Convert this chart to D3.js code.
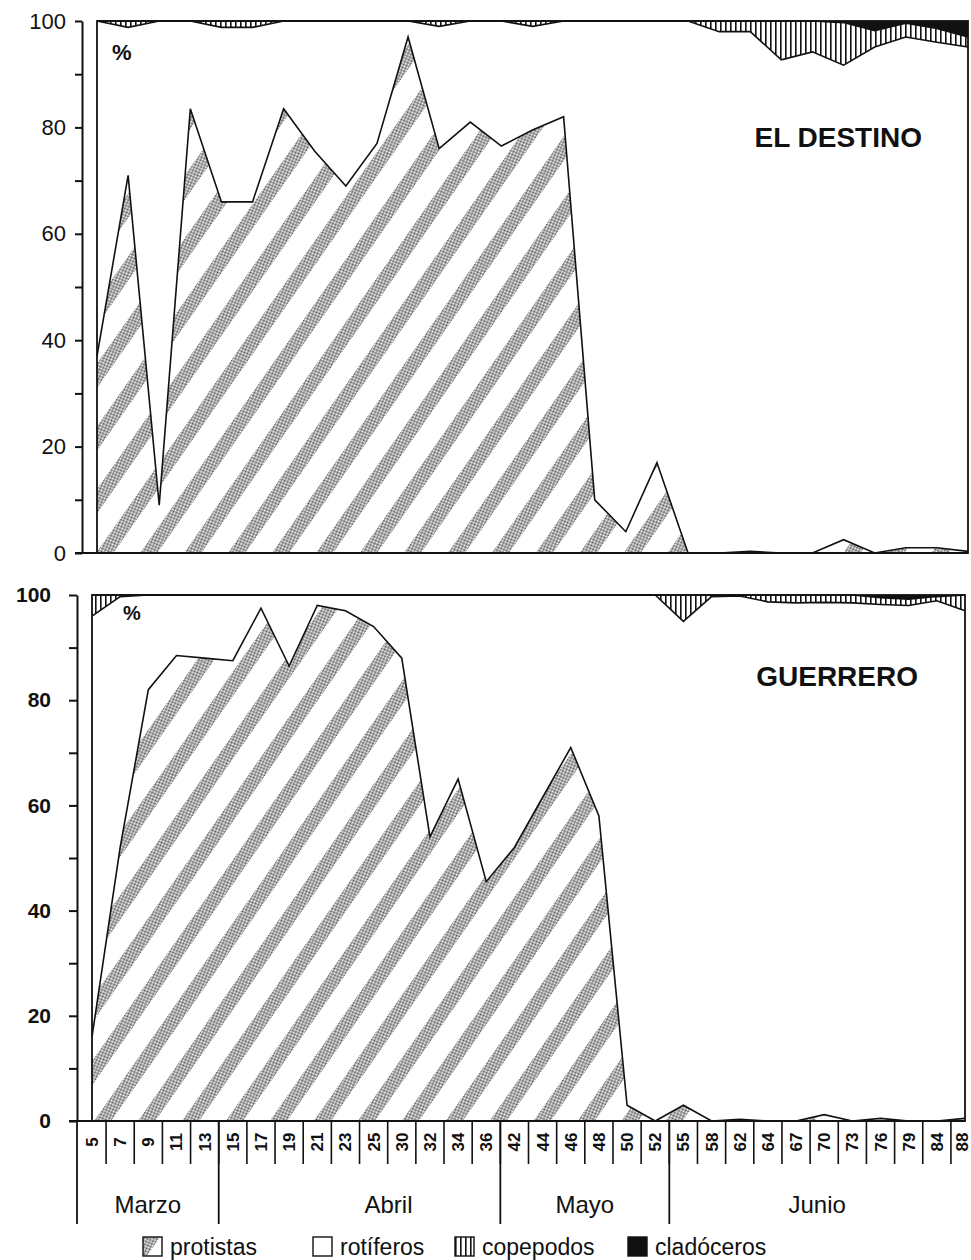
<!DOCTYPE html>
<html lang="es">
<head>
<meta charset="UTF-8">
<title>Composición del zooplancton (%)</title>
<script src="https://cdn.jsdelivr.net/npm/d3@7"></script>
<style>
body { margin: 0; background: #fff; }
svg text { font-family: "Liberation Sans", Arial, Helvetica, sans-serif; fill: #111; }
</style>
</head>
<body>
<svg id="chart" width="971" height="1260"></svg>
<script>
// ---- datos ----
var grupos = ["protistas", "rotíferos", "copepodos", "cladóceros"];

// El Destino: 29 muestreos (el original no los rotula)
var destinoMuestras = [1, 2, 3, 4, 5, 6, 7, 8, 9, 10, 11, 12, 13, 14, 15, 16, 17, 18, 19, 20, 21, 22, 23, 24, 25, 26, 27, 28, 29];
var destinoProtistas  = [37, 71, 9, 83.5, 66, 66, 83.5, 75.5, 69, 77, 97, 76, 81, 76.5, 79.5, 82, 10, 4, 17, 0, 0, 0.3, 0, 0, 2.5, 0, 1, 1, 0.3];
var destinoRotiferos  = [63, 27.8, 91, 16.5, 32.8, 32.8, 16.5, 24.5, 31, 23, 3, 23, 19, 23.5, 19.5, 18, 90, 96, 83, 100, 98, 97.7, 92.7, 94.2, 89.2, 95.1, 96, 95, 94.8];
var destinoCopepodos  = [0, 1.2, 0, 0, 1.2, 1.2, 0, 0, 0, 0, 0, 1, 0, 0, 1, 0, 0, 0, 0, 0, 2, 2, 7.3, 5.8, 8, 3.1, 2.6, 2.6, 1.9];
var destinoCladoceros = [0, 0, 0, 0, 0, 0, 0, 0, 0, 0, 0, 0, 0, 0, 0, 0, 0, 0, 0, 0, 0, 0, 0, 0, 0.3, 1.8, 0.4, 1.4, 3];

// Guerrero: días de muestreo
var dias = ["5", "7", "9", "11", "13", "15", "17", "19", "21", "23", "25", "30", "32", "34", "36", "42", "44", "46", "48", "50", "52", "55", "58", "62", "64", "67", "70", "73", "76", "79", "84", "88"];
var guerreroProtistas  = [16, 52, 82, 88.5, 88, 87.5, 97.5, 86.5, 98, 97, 94, 88, 54, 65, 45.5, 52, 61.5, 71, 58, 3, 0, 3, 0, 0.3, 0, 0, 1.2, 0, 0.5, 0, 0, 0.5];
var guerreroRotiferos  = [80, 47.7, 18, 11.5, 12, 12.5, 2.5, 13.5, 2, 3, 6, 12, 46, 35, 54.5, 48, 38.5, 29, 42, 97, 100, 92, 99.7, 99.5, 98.7, 98.5, 97.4, 98.5, 97.7, 98, 98.9, 96.5];
var guerreroCopepodos  = [4, 0.3, 0, 0, 0, 0, 0, 0, 0, 0, 0, 0, 0, 0, 0, 0, 0, 0, 0, 0, 0, 5, 0.3, 0.2, 1.3, 1.5, 1.4, 1.5, 1.3, 1.2, 0.8, 3];
var guerreroCladoceros = [0, 0, 0, 0, 0, 0, 0, 0, 0, 0, 0, 0, 0, 0, 0, 0, 0, 0, 0, 0, 0, 0, 0, 0, 0, 0, 0, 0, 0.5, 0.8, 0.3, 0];

var meses = ["Marzo", "Abril", "Mayo", "Junio"];
var mesPrimerDia = ["5", "15", "42", "55"];

var yTicks = [0, 10, 20, 30, 40, 50, 60, 70, 80, 90, 100];
var yEtiquetas = [0, 20, 40, 60, 80, 100];

// ---- dibujo ----
var svg = d3.select("#chart");
var defs = svg.append("defs");

// punteado fino para las bandas de protistas
var st = defs.append("pattern").attr("id", "punteado")
  .attr("patternUnits", "userSpaceOnUse").attr("width", 2).attr("height", 2);
st.append("rect").attr("width", 2).attr("height", 2).attr("fill", "#fff");
st.append("rect").attr("width", 1).attr("height", 1).attr("fill", "#555");
st.append("rect").attr("x", 1).attr("y", 1).attr("width", 1).attr("height", 1).attr("fill", "#555");

var rayas = defs.append("pattern").attr("id", "pat-protistas")
  .attr("patternUnits", "userSpaceOnUse").attr("width", 36).attr("height", 36)
  .attr("patternTransform", "rotate(35)");
rayas.append("rect").attr("width", 36).attr("height", 36).attr("fill", "#fff");
rayas.append("rect").attr("width", 14).attr("height", 36).attr("fill", "url(#punteado)");

var verticales = defs.append("pattern").attr("id", "pat-copepodos")
  .attr("patternUnits", "userSpaceOnUse").attr("width", 5).attr("height", 10);
verticales.append("rect").attr("width", 5).attr("height", 10).attr("fill", "#fff");
verticales.append("rect").attr("width", 1.6).attr("height", 10).attr("fill", "#111");

var relleno = {
  "protistas": "url(#pat-protistas)",
  "rotíferos": "#fff",
  "copepodos": "url(#pat-copepodos)",
  "cladóceros": "#111"
};

function panel(o) {
  var x = d3.scalePoint().domain(o.cats).range([o.left, o.right]);
  var y = d3.scaleLinear().domain([0, 100]).range([o.bottom, o.top]);

  var filas = o.cats.map(function(c, i) {
    return { cat: c, "protistas": o.series[0][i], "rotíferos": o.series[1][i],
             "copepodos": o.series[2][i], "cladóceros": o.series[3][i] };
  });
  var capas = d3.stack().keys(grupos)(filas);

  var area = d3.area()
    .x(function(d) { return x(d.data.cat); })
    .y0(function(d) { return y(d[0]); })
    .y1(function(d) { return y(d[1]); });
  var borde = d3.line()
    .x(function(d) { return x(d.data.cat); })
    .y(function(d) { return y(d[1]); });

  var g = svg.append("g");
  g.selectAll("path.capa").data(capas).join("path")
    .attr("class", "capa")
    .attr("d", area)
    .attr("fill", function(d) { return relleno[d.key]; });
  g.selectAll("path.borde").data(capas.slice(0, 3)).join("path")
    .attr("class", "borde")
    .attr("d", borde)
    .attr("fill", "none")
    .attr("stroke", "#111")
    .attr("stroke-width", 1.6);

  g.append("rect")
    .attr("x", o.left).attr("y", o.top)
    .attr("width", o.right - o.left).attr("height", o.bottom - o.top)
    .attr("fill", "none").attr("stroke", "#111").attr("stroke-width", 1.8);

  // eje y
  var eje = d3.axisLeft(y).tickValues(yTicks).tickSize(o.tick).tickSizeOuter(0)
    .tickPadding(o.pad)
    .tickFormat(function(d) { return yEtiquetas.indexOf(d) >= 0 ? d : ""; });
  var ag = svg.append("g").attr("transform", "translate(" + o.axisX + ",0)").call(eje);
  ag.select(".domain").attr("stroke", "#111").attr("stroke-width", 2);
  ag.selectAll(".tick line").attr("stroke", "#111").attr("stroke-width", 2);
  ag.selectAll(".tick text")
    .attr("fill", "#111")
    .style("font-size", o.fontSize + "px")
    .style("font-weight", o.bold ? "bold" : "normal")
    .style("font-family", "'Liberation Sans', Arial, sans-serif");

  // línea base desde el eje
  svg.append("line")
    .attr("x1", o.axisX - o.tick).attr("x2", o.right)
    .attr("y1", y(0)).attr("y2", y(0))
    .attr("stroke", "#111").attr("stroke-width", 2);

  svg.append("text").attr("x", o.pctX).attr("y", o.pctY)
    .style("font-size", o.pctSize + "px").style("font-weight", "bold").text("%");
  svg.append("text").attr("x", o.nameX).attr("y", o.nameY)
    .attr("text-anchor", "end")
    .style("font-size", "28px").style("font-weight", "bold").text(o.nombre);

  return { x: x, y: y };
}

panel({
  nombre: "EL DESTINO", cats: destinoMuestras,
  series: [destinoProtistas, destinoRotiferos, destinoCopepodos, destinoCladoceros],
  left: 97, right: 968, top: 21, bottom: 553,
  axisX: 82, tick: 7, pad: 9, fontSize: 22, bold: false,
  pctX: 112, pctY: 60, pctSize: 22, nameX: 922, nameY: 147
});

var gu = panel({
  nombre: "GUERRERO", cats: dias,
  series: [guerreroProtistas, guerreroRotiferos, guerreroCopepodos, guerreroCladoceros],
  left: 92, right: 965, top: 595, bottom: 1121,
  axisX: 77, tick: 8, pad: 18, fontSize: 21, bold: true,
  pctX: 123, pctY: 620, pctSize: 20, nameX: 918, nameY: 686
});

// eje x de Guerrero: días y meses
var x = gu.x, paso = x.step(), y0 = 1121;
var ejeX = svg.append("g");
ejeX.selectAll("line.sep").data(dias.slice(0, -1)).join("line")
  .attr("class", "sep")
  .attr("x1", function(d) { return x(d) + paso / 2; })
  .attr("x2", function(d) { return x(d) + paso / 2; })
  .attr("y1", y0).attr("y2", 1164)
  .attr("stroke", "#111").attr("stroke-width", 1.6);
ejeX.selectAll("text.dia").data(dias).join("text")
  .attr("class", "dia")
  .attr("transform", function(d) {
    return "translate(" + Math.min(x(d) + 6, 968) + ",1142) rotate(-90)";
  })
  .attr("text-anchor", "middle")
  .style("font-size", "17px").style("font-weight", "bold")
  .text(function(d) { return d; });

var limites = [77].concat(mesPrimerDia.slice(1).map(function(d) { return x(d) - paso / 2; }));
ejeX.selectAll("line.mes").data(limites).join("line")
  .attr("class", "mes")
  .attr("x1", function(d) { return d; }).attr("x2", function(d) { return d; })
  .attr("y1", y0).attr("y2", 1224)
  .attr("stroke", "#111").attr("stroke-width", 1.8);
var finales = limites.slice(1).concat([965]);
var ajusteMes = { "Abril": 29 };
ejeX.selectAll("text.mes").data(meses).join("text")
  .attr("class", "mes")
  .attr("x", function(d, i) { return (limites[i] + finales[i]) / 2 + (ajusteMes[d] || 0); })
  .attr("y", 1213)
  .attr("text-anchor", "middle")
  .style("font-size", "24px")
  .text(function(d) { return d; });

// leyenda
var legX = [143, 313, 455, 628];
var ley = svg.append("g").selectAll("g").data(grupos).join("g")
  .attr("transform", function(d, i) { return "translate(" + legX[i] + ",1237)"; });
ley.append("rect").attr("width", 19).attr("height", 19)
  .attr("fill", function(d) { return relleno[d]; })
  .attr("stroke", "#111").attr("stroke-width", 1.4);
ley.append("text").attr("x", 27).attr("y", 18)
  .style("font-size", "23px")
  .text(function(d) { return d; });
</script>
</body>
</html>
